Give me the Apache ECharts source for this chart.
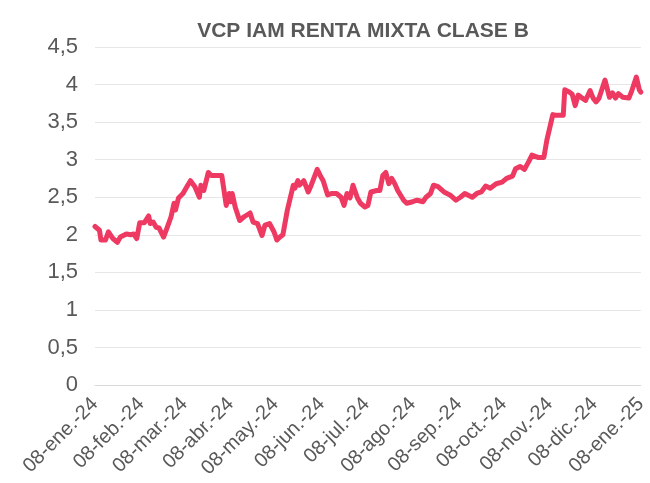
<!DOCTYPE html>
<html>
<head>
<meta charset="utf-8">
<title>VCP IAM RENTA MIXTA CLASE B</title>
<script src="https://cdn.jsdelivr.net/npm/echarts@6/dist/echarts.min.js"></script>
<style>
  html, body { margin: 0; padding: 0; background: #fff; }
  #chart { width: 650px; height: 483px; }
</style>
</head>
<body>
<div id="chart"></div>
<script>
// fechas y valores
const dates = [
  '2024-01-08','2024-01-11','2024-01-12','2024-01-15','2024-01-17','2024-01-20','2024-01-23','2024-01-25',
  '2024-01-29','2024-02-01','2024-02-03','2024-02-05','2024-02-07','2024-02-10','2024-02-13','2024-02-14',
  '2024-02-16','2024-02-18','2024-02-20','2024-02-23','2024-02-26','2024-02-28','2024-03-01','2024-03-02',
  '2024-03-04','2024-03-07','2024-03-09','2024-03-12','2024-03-15','2024-03-18','2024-03-19','2024-03-21',
  '2024-03-24','2024-03-26','2024-04-02','2024-04-05','2024-04-07','2024-04-08','2024-04-09','2024-04-11',
  '2024-04-14','2024-04-17','2024-04-21','2024-04-23','2024-04-26','2024-04-29','2024-05-01','2024-05-04',
  '2024-05-07','2024-05-09','2024-05-11','2024-05-13','2024-05-16','2024-05-20','2024-05-21','2024-05-23',
  '2024-05-24','2024-05-27','2024-05-30','2024-06-01','2024-06-05','2024-06-07','2024-06-09','2024-06-12',
  '2024-06-15','2024-06-18','2024-06-21','2024-06-23','2024-06-25','2024-06-27','2024-06-29','2024-07-02',
  '2024-07-04','2024-07-07','2024-07-09','2024-07-11','2024-07-15','2024-07-17','2024-07-19','2024-07-21',
  '2024-07-23','2024-07-25','2024-07-27','2024-07-29','2024-08-02','2024-08-04','2024-08-08','2024-08-11',
  '2024-08-15','2024-08-17','2024-08-20','2024-08-22','2024-08-25','2024-08-29','2024-09-02','2024-09-06',
  '2024-09-09','2024-09-12','2024-09-17','2024-09-20','2024-09-23','2024-09-26','2024-09-29','2024-10-03',
  '2024-10-07','2024-10-10','2024-10-14','2024-10-16','2024-10-19','2024-10-22','2024-10-25','2024-10-27',
  '2024-10-31','2024-11-04','2024-11-06','2024-11-07','2024-11-10','2024-11-13','2024-11-17','2024-11-18',
  '2024-11-21','2024-11-23','2024-11-25','2024-11-27','2024-11-29','2024-12-02','2024-12-05','2024-12-07',
  '2024-12-09','2024-12-11','2024-12-15','2024-12-18','2024-12-20','2024-12-22','2024-12-24','2024-12-27',
  '2024-12-31','2025-01-02','2025-01-05','2025-01-07','2025-01-08'
];
const values = [
  2.11, 2.06, 1.93, 1.93, 2.04, 1.95, 1.90, 1.97,
  2.01, 2.00, 2.01, 1.95, 2.16, 2.16, 2.25, 2.15,
  2.17, 2.10, 2.09, 1.97, 2.13, 2.24, 2.42, 2.33,
  2.49, 2.55, 2.62, 2.72, 2.64, 2.50, 2.66, 2.59,
  2.83, 2.79, 2.79, 2.39, 2.55, 2.44, 2.55, 2.37,
  2.19, 2.24, 2.29, 2.17, 2.15, 1.99, 2.13, 2.15,
  2.04, 1.93, 1.97, 2.00, 2.33, 2.66, 2.62, 2.72,
  2.66, 2.72, 2.57, 2.66, 2.87, 2.79, 2.72, 2.53,
  2.55, 2.55, 2.50, 2.39, 2.55, 2.49, 2.66, 2.49,
  2.42, 2.37, 2.39, 2.57, 2.59, 2.59, 2.79, 2.83,
  2.68, 2.75, 2.68, 2.59, 2.46, 2.42, 2.44, 2.46,
  2.44, 2.50, 2.55, 2.66, 2.64, 2.57, 2.53, 2.46,
  2.50, 2.55, 2.50, 2.55, 2.57, 2.65, 2.62, 2.68,
  2.70, 2.75, 2.78, 2.88, 2.91, 2.87, 2.98, 3.06,
  3.03, 3.03, 3.26, 3.28, 3.60, 3.59, 3.59, 3.93,
  3.90, 3.87, 3.72, 3.86, 3.83, 3.79, 3.92, 3.82,
  3.77, 3.82, 4.06, 3.83, 3.89, 3.82, 3.88, 3.83,
  3.82, 3.92, 4.10, 3.93, 3.90
];
// etiquetas del eje x (dia 8 de cada mes)
const tickDates = [
  '2024-01-08','2024-02-08','2024-03-08','2024-04-08','2024-05-08','2024-06-08','2024-07-08',
  '2024-08-08','2024-09-08','2024-10-08','2024-11-08','2024-12-08','2025-01-08'
];
const monthNames = ['ene.','feb.','mar.','abr.','may.','jun.','jul.','ago.','sep.','oct.','nov.','dic.'];

function toTime(s) {
  const p = s.split('-').map(Number);
  return new Date(p[0], p[1] - 1, p[2]).getTime();
}

const textColor = '#595959';
const chart = echarts.init(document.getElementById('chart'));

chart.setOption({
  animation: false,
  title: {
    text: 'VCP IAM RENTA MIXTA CLASE B',
    left: 358,
    top: 16,
    textAlign: 'center',
    textStyle: {
      fontFamily: 'Liberation Sans, Arial, sans-serif',
      fontSize: 21,
      fontWeight: 'bold',
      color: textColor
    }
  },
  grid: { left: 95, right: 2, top: 47, bottom: 98 },
  xAxis: {
    type: 'value',
    min: toTime(tickDates[0]),
    max: toTime(tickDates[tickDates.length - 1]),
    axisLine: { show: true, lineStyle: { color: '#D9D9D9', width: 1 } },
    axisTick: { show: false },
    splitLine: { show: false },
    axisLabel: {
      customValues: tickDates.map(toTime),
      rotate: 45,
      margin: 16,
      fontFamily: 'Liberation Sans, Arial, sans-serif',
      fontSize: 20,
      color: textColor,
      hideOverlap: false,
      formatter: function (v) {
        const d = new Date(v);
        const dd = String(d.getDate()).padStart(2, '0');
        const yy = String(d.getFullYear()).slice(2);
        return dd + '-' + monthNames[d.getMonth()] + '-' + yy;
      }
    }
  },
  yAxis: {
    type: 'value',
    min: 0,
    max: 4.5,
    interval: 0.5,
    axisLine: { show: false },
    axisTick: { show: false },
    splitLine: { lineStyle: { color: '#E6E6E6', width: 1 } },
    axisLabel: {
      margin: 17,
      fontFamily: 'Liberation Sans, Arial, sans-serif',
      fontSize: 22,
      color: textColor,
      formatter: function (v) { return String(v).replace('.', ','); }
    }
  },
  series: [{
    type: 'line',
    data: dates.map((d, i) => [toTime(d), values[i]]),
    showSymbol: false,
    lineStyle: { color: '#EE3A62', width: 5, join: 'round', cap: 'round' },
    itemStyle: { color: '#EE3A62' }
  }]
});
</script>
</body>
</html>
